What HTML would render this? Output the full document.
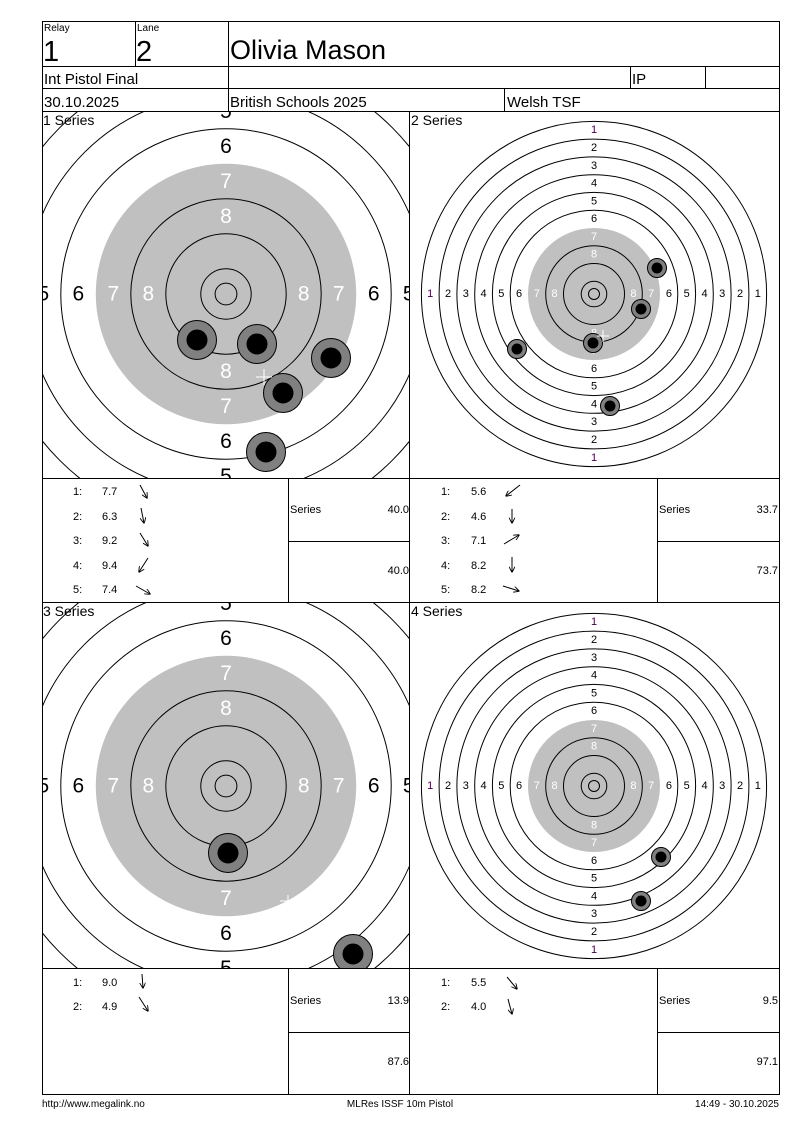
<!DOCTYPE html>
<html><head><meta charset="utf-8"><style>
html,body{margin:0;padding:0;background:#fff}
svg{display:block}
text{font-family:"Liberation Sans",sans-serif}
</style></head><body>
<svg width="800" height="1130" viewBox="0 0 800 1130" xmlns="http://www.w3.org/2000/svg">
<defs>
<clipPath id="c1"><rect x="42" y="111" width="367" height="367"/></clipPath>
<clipPath id="c2"><rect x="410" y="111" width="369" height="367"/></clipPath>
<clipPath id="c3"><rect x="42" y="602" width="367" height="366"/></clipPath>
<clipPath id="c4"><rect x="410" y="602" width="369" height="366"/></clipPath>
<marker id="ah" viewBox="0 0 10 10" refX="9" refY="5" markerWidth="6" markerHeight="6" orient="auto"><path d="M0,0 L10,5 L0,10" fill="none" stroke="#000" stroke-width="1.5"/></marker>
</defs>

<!-- Target 1 -->
<g clip-path="url(#c1)">
<g transform="translate(226,294)" fill="none" stroke="#000" stroke-width="1">
<circle r="130.2" fill="#c0c0c0" stroke="none"/>
<circle r="270.2"/><circle r="235.2"/><circle r="200.2"/><circle r="165.2"/>
<circle r="95.2"/><circle r="60.2"/><circle r="25.2"/><circle r="10.9"/>
</g>
<g transform="translate(226,294)" font-size="21" text-anchor="middle" dominant-baseline="central">
<g fill="#fff"><text x="0" y="-77.7">8</text><text x="0" y="-112.7">7</text><text x="0" y="77.7">8</text><text x="0" y="112.7">7</text>
<text x="-77.7" y="0">8</text><text x="-112.7" y="0">7</text><text x="77.7" y="0">8</text><text x="112.7" y="0">7</text></g>
<g fill="#000"><text x="0" y="-147.7">6</text><text x="0" y="-182.7">5</text><text x="0" y="147.7">6</text><text x="0" y="182.7">5</text>
<text x="-147.7" y="0">6</text><text x="-182.7" y="0">5</text><text x="147.7" y="0">6</text><text x="182.7" y="0">5</text></g>
</g>
<g stroke="#000" stroke-width="1">
<circle cx="197" cy="340" r="19.5" fill="#808080"/><circle cx="197" cy="340" r="10" fill="#000"/>
<circle cx="257" cy="344" r="19.5" fill="#808080"/><circle cx="257" cy="344" r="10" fill="#000"/>
<circle cx="331" cy="358" r="19.5" fill="#808080"/><circle cx="331" cy="358" r="10" fill="#000"/>
<circle cx="283" cy="393" r="19.5" fill="#808080"/><circle cx="283" cy="393" r="10" fill="#000"/>
<circle cx="266" cy="452" r="19.5" fill="#808080"/><circle cx="266" cy="452" r="10" fill="#000"/>
</g>
<path d="M256,377 h16 M264,369 v16" stroke="#fff" stroke-width="1"/>
</g>

<!-- Target 2 -->
<g clip-path="url(#c2)">
<g transform="translate(594,294)" fill="none" stroke="#000" stroke-width="1">
<circle r="66" fill="#c0c0c0" stroke="none"/>
<circle r="172.6"/><circle r="154.9"/><circle r="137.1"/><circle r="119.3"/><circle r="101.6"/><circle r="83.8"/>
<circle r="48.3"/><circle r="30.5"/><circle r="12.8"/><circle r="5.5"/>
</g>
<g transform="translate(594,294)" font-size="11" text-anchor="middle" dominant-baseline="central">
<g fill="#fff"><text x="0" y="-39.4">8</text><text x="0" y="-57.2">7</text><text x="0" y="39.4">8</text><text x="0" y="57.2">7</text>
<text x="-39.4" y="0">8</text><text x="-57.2" y="0">7</text><text x="39.4" y="0">8</text><text x="57.2" y="0">7</text></g>
<g fill="#000">
<text x="0" y="-74.9">6</text><text x="0" y="-92.7">5</text><text x="0" y="-110.5">4</text><text x="0" y="-128.2">3</text><text x="0" y="-146">2</text><text x="0" y="-163.8" fill="#400040">1</text>
<text x="0" y="74.9">6</text><text x="0" y="92.7">5</text><text x="0" y="110.5">4</text><text x="0" y="128.2">3</text><text x="0" y="146">2</text><text x="0" y="163.8" fill="#400040">1</text>
<text x="-74.9" y="0">6</text><text x="-92.7" y="0">5</text><text x="-110.5" y="0">4</text><text x="-128.2" y="0">3</text><text x="-146" y="0">2</text><text x="-163.8" y="0" fill="#400040">1</text>
<text x="74.9" y="0">6</text><text x="92.7" y="0">5</text><text x="110.5" y="0">4</text><text x="128.2" y="0">3</text><text x="146" y="0">2</text><text x="163.8" y="0">1</text>
</g></g>
<g stroke="#000" stroke-width="1">
<circle cx="657" cy="268" r="9.5" fill="#808080"/><circle cx="657" cy="268" r="5" fill="#000"/>
<circle cx="641" cy="309" r="9.5" fill="#808080"/><circle cx="641" cy="309" r="5" fill="#000"/>
<circle cx="593" cy="343" r="9.5" fill="#808080"/><circle cx="593" cy="343" r="5" fill="#000"/>
<circle cx="517" cy="349" r="9.5" fill="#808080"/><circle cx="517" cy="349" r="5" fill="#000"/>
<circle cx="610" cy="406" r="9.5" fill="#808080"/><circle cx="610" cy="406" r="5" fill="#000"/>
</g>
<path d="M597,336 h12 M603,330 v12" stroke="#fff" stroke-width="1"/>
</g>

<!-- Target 3 -->
<g clip-path="url(#c3)">
<g transform="translate(226,786)" fill="none" stroke="#000" stroke-width="1">
<circle r="130.2" fill="#c0c0c0" stroke="none"/>
<circle r="270.2"/><circle r="235.2"/><circle r="200.2"/><circle r="165.2"/>
<circle r="95.2"/><circle r="60.2"/><circle r="25.2"/><circle r="10.9"/>
</g>
<g transform="translate(226,786)" font-size="21" text-anchor="middle" dominant-baseline="central">
<g fill="#fff"><text x="0" y="-77.7">8</text><text x="0" y="-112.7">7</text><text x="0" y="112.7">7</text>
<text x="-77.7" y="0">8</text><text x="-112.7" y="0">7</text><text x="77.7" y="0">8</text><text x="112.7" y="0">7</text></g>
<g fill="#000"><text x="0" y="-147.7">6</text><text x="0" y="-182.7">5</text><text x="0" y="147.7">6</text><text x="0" y="182.7">5</text>
<text x="-147.7" y="0">6</text><text x="-182.7" y="0">5</text><text x="147.7" y="0">6</text><text x="182.7" y="0">5</text></g>
</g>
<g stroke="#000" stroke-width="1">
<circle cx="228" cy="853" r="19.5" fill="#808080"/><circle cx="228" cy="853" r="10" fill="#000"/>
<circle cx="353" cy="954" r="19.5" fill="#808080"/><circle cx="353" cy="954" r="10" fill="#000"/>
</g>
<path d="M280,901 h12 M288,895 v12" stroke="#fff" stroke-width="1"/>
</g>

<!-- Target 4 -->
<g clip-path="url(#c4)">
<g transform="translate(594,786)" fill="none" stroke="#000" stroke-width="1">
<circle r="66" fill="#c0c0c0" stroke="none"/>
<circle r="172.6"/><circle r="154.9"/><circle r="137.1"/><circle r="119.3"/><circle r="101.6"/><circle r="83.8"/>
<circle r="48.3"/><circle r="30.5"/><circle r="12.8"/><circle r="5.5"/>
</g>
<g transform="translate(594,786)" font-size="11" text-anchor="middle" dominant-baseline="central">
<g fill="#fff"><text x="0" y="-39.4">8</text><text x="0" y="-57.2">7</text><text x="0" y="39.4">8</text><text x="0" y="57.2">7</text>
<text x="-39.4" y="0">8</text><text x="-57.2" y="0">7</text><text x="39.4" y="0">8</text><text x="57.2" y="0">7</text></g>
<g fill="#000">
<text x="0" y="-74.9">6</text><text x="0" y="-92.7">5</text><text x="0" y="-110.5">4</text><text x="0" y="-128.2">3</text><text x="0" y="-146">2</text><text x="0" y="-163.8" fill="#400040">1</text>
<text x="0" y="74.9">6</text><text x="0" y="92.7">5</text><text x="0" y="110.5">4</text><text x="0" y="128.2">3</text><text x="0" y="146">2</text><text x="0" y="163.8" fill="#400040">1</text>
<text x="-74.9" y="0">6</text><text x="-92.7" y="0">5</text><text x="-110.5" y="0">4</text><text x="-128.2" y="0">3</text><text x="-146" y="0">2</text><text x="-163.8" y="0" fill="#400040">1</text>
<text x="74.9" y="0">6</text><text x="92.7" y="0">5</text><text x="110.5" y="0">4</text><text x="128.2" y="0">3</text><text x="146" y="0">2</text><text x="163.8" y="0">1</text>
</g></g>
<g stroke="#000" stroke-width="1">
<circle cx="661" cy="857" r="9.5" fill="#808080"/><circle cx="661" cy="857" r="5" fill="#000"/>
<circle cx="641" cy="901" r="9.5" fill="#808080"/><circle cx="641" cy="901" r="5" fill="#000"/>
</g>
</g>

<!-- Grid lines -->
<g stroke="#000" stroke-width="1" fill="none">
<rect x="42.5" y="21.5" width="737" height="1073"/>
<line x1="42" y1="66.5" x2="780" y2="66.5"/>
<line x1="42" y1="88.5" x2="780" y2="88.5"/>
<line x1="42" y1="111.5" x2="780" y2="111.5"/>
<line x1="135.5" y1="21" x2="135.5" y2="66"/>
<line x1="228.5" y1="21" x2="228.5" y2="111"/>
<line x1="630.5" y1="66" x2="630.5" y2="88"/>
<line x1="705.5" y1="66" x2="705.5" y2="88"/>
<line x1="504.5" y1="88" x2="504.5" y2="111"/>
<line x1="409.5" y1="111" x2="409.5" y2="1094"/>
<line x1="42" y1="478.5" x2="780" y2="478.5"/>
<line x1="42" y1="602.5" x2="780" y2="602.5"/>
<line x1="42" y1="968.5" x2="780" y2="968.5"/>
<line x1="288.5" y1="478" x2="288.5" y2="602"/>
<line x1="657.5" y1="478" x2="657.5" y2="602"/>
<line x1="288" y1="541.5" x2="409" y2="541.5"/>
<line x1="657" y1="541.5" x2="780" y2="541.5"/>
<line x1="288.5" y1="968" x2="288.5" y2="1094"/>
<line x1="657.5" y1="968" x2="657.5" y2="1094"/>
<line x1="288" y1="1032.5" x2="409" y2="1032.5"/>
<line x1="657" y1="1032.5" x2="780" y2="1032.5"/>
</g>

<!-- Header text -->
<g fill="#000">
<text x="44" y="31" font-size="10">Relay</text>
<text x="137" y="31" font-size="10">Lane</text>
<text x="43" y="61" font-size="29">1</text>
<text x="136" y="61" font-size="29">2</text>
<text x="230" y="59" font-size="27">Olivia Mason</text>
<text x="44" y="84" font-size="15">Int Pistol Final</text>
<text x="632" y="84" font-size="15">IP</text>
<text x="44" y="107" font-size="15">30.10.2025</text>
<text x="230" y="107" font-size="15">British Schools 2025</text>
<text x="507" y="107" font-size="15">Welsh TSF</text>
<text x="43" y="125" font-size="14">1 Series</text>
<text x="411" y="125" font-size="14">2 Series</text>
<text x="43" y="616" font-size="14">3 Series</text>
<text x="411" y="616" font-size="14">4 Series</text>
</g>

<!-- Shot tables -->
<g font-size="11" fill="#000">
<text x="73" y="495">1:</text><text x="102" y="495">7.7</text>
<text x="73" y="520">2:</text><text x="102" y="520">6.3</text>
<text x="73" y="544">3:</text><text x="102" y="544">9.2</text>
<text x="73" y="569">4:</text><text x="102" y="569">9.4</text>
<text x="73" y="593">5:</text><text x="102" y="593">7.4</text>
<text x="290" y="513">Series</text><text x="409" y="513" text-anchor="end">40.0</text>
<text x="409" y="574" text-anchor="end">40.0</text>

<text x="441" y="495">1:</text><text x="471" y="495">5.6</text>
<text x="441" y="520">2:</text><text x="471" y="520">4.6</text>
<text x="441" y="544">3:</text><text x="471" y="544">7.1</text>
<text x="441" y="569">4:</text><text x="471" y="569">8.2</text>
<text x="441" y="593">5:</text><text x="471" y="593">8.2</text>
<text x="659" y="513">Series</text><text x="778" y="513" text-anchor="end">33.7</text>
<text x="778" y="574" text-anchor="end">73.7</text>

<text x="73" y="986">1:</text><text x="102" y="986">9.0</text>
<text x="73" y="1010">2:</text><text x="102" y="1010">4.9</text>
<text x="290" y="1004">Series</text><text x="409" y="1004" text-anchor="end">13.9</text>
<text x="409" y="1065" text-anchor="end">87.6</text>

<text x="441" y="986">1:</text><text x="471" y="986">5.5</text>
<text x="441" y="1010">2:</text><text x="471" y="1010">4.0</text>
<text x="659" y="1004">Series</text><text x="778" y="1004" text-anchor="end">9.5</text>
<text x="778" y="1065" text-anchor="end">97.1</text>
</g>

<!-- Arrows -->
<g stroke="#000" stroke-width="1" marker-end="url(#ah)">
<line x1="140" y1="485" x2="147" y2="498"/>
<line x1="141" y1="508" x2="144" y2="523"/>
<line x1="140" y1="533" x2="148" y2="546"/>
<line x1="148" y1="558" x2="139" y2="572"/>
<line x1="136" y1="586" x2="150" y2="594"/>
<line x1="520" y1="485" x2="506" y2="496"/>
<line x1="512" y1="509" x2="512" y2="523"/>
<line x1="504" y1="544" x2="519" y2="535"/>
<line x1="512" y1="557" x2="512" y2="572"/>
<line x1="503" y1="586" x2="519" y2="591"/>
<line x1="142" y1="974" x2="143" y2="988"/>
<line x1="139" y1="997" x2="148" y2="1011"/>
<line x1="507" y1="977" x2="517" y2="989"/>
<line x1="508" y1="999" x2="512" y2="1014"/>
</g>

<!-- Footer -->
<g font-size="10" fill="#000">
<text x="42" y="1107">http://www.megalink.no</text>
<text x="400" y="1107" text-anchor="middle">MLRes ISSF 10m Pistol</text>
<text x="779" y="1107" text-anchor="end">14:49 - 30.10.2025</text>
</g>
</svg>
</body></html>
